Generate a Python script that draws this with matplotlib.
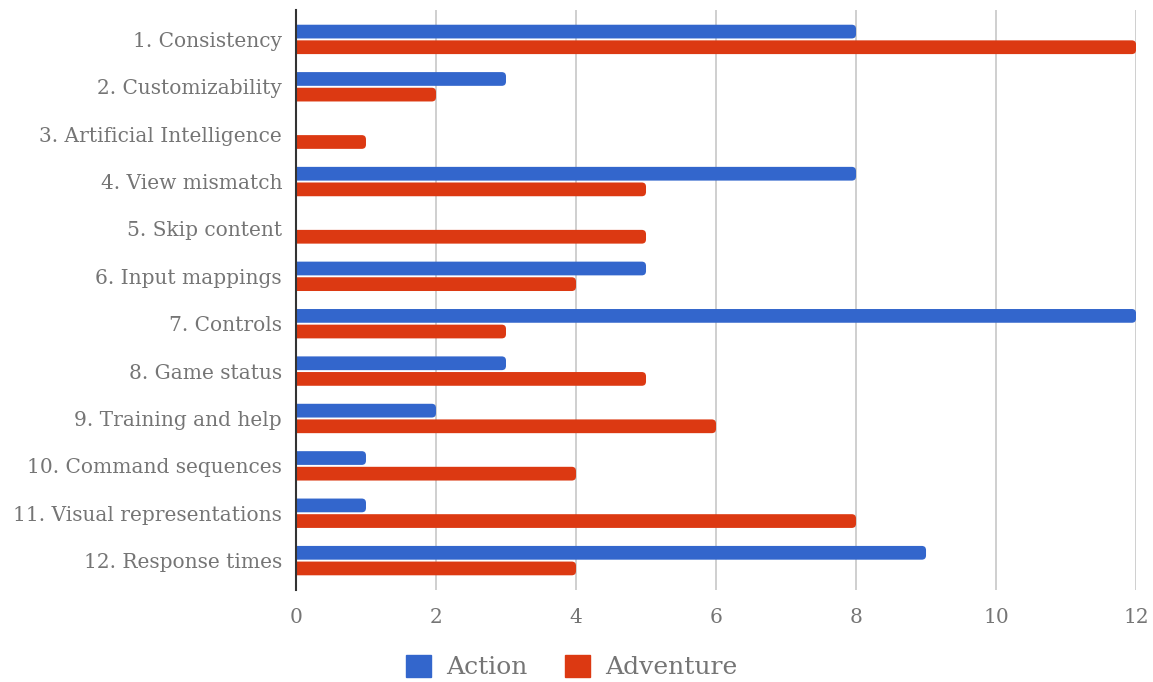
import numpy as np
import matplotlib
matplotlib.use("Agg")
import matplotlib.pyplot as plt
from matplotlib.patches import FancyBboxPatch

categories = ["1. Consistency", "2. Customizability", "3. Artificial Intelligence",
              "4. View mismatch", "5. Skip content", "6. Input mappings",
              "7. Controls", "8. Game status", "9. Training and help",
              "10. Command sequences", "11. Visual representations", "12. Response times"]
action = [8, 3, 0, 8, 0, 5, 12, 3, 2, 1, 1, 9]
adventure = [12, 2, 1, 5, 5, 4, 3, 5, 6, 4, 8, 4]
xticks = [0, 2, 4, 6, 8, 10, 12]

blue = "#3366cc"
red = "#dc3912"
txt = "#757575"

plt.rcParams['font.family'] = ['DejaVu Serif']

fig = plt.figure(figsize=(11.53, 6.82), dpi=100)
ax = fig.add_axes([0.2567, 0.1349, 0.7286, 0.8504])

y = np.arange(len(categories))
h = 0.29
off = 0.165


def rounded_barh(ypos, vals, color, label):
    # draw with barh, then swap each bar for a rounded copy of the same box
    bars = ax.barh(ypos, vals, height=h, color=color, label=label)
    for b in bars:
        w = b.get_width()
        b.set_visible(False)
        if w <= 0:
            continue
        p = FancyBboxPatch((b.get_x() - 0.2, b.get_y()), w + 0.2, b.get_height(),
                           boxstyle="round,pad=0,rounding_size=0.06",
                           mutation_aspect=1.5, facecolor=color, edgecolor="none",
                           zorder=3)
        ax.add_patch(p)
    return bars


rounded_barh(y - off, action, blue, "Action")
rounded_barh(y + off, adventure, red, "Adventure")

ax.set_xlim(0, 12)
ax.set_ylim(11.62, -0.62)
ax.set_yticks(y)
ax.set_yticklabels(categories, fontsize=14.5, color=txt)
ax.set_xticks(xticks)
ax.set_xticklabels([str(t) for t in xticks], fontsize=14.5, color=txt)
ax.tick_params(axis='both', length=0)
ax.tick_params(axis='x', pad=13)
ax.tick_params(axis='y', pad=10)
ax.grid(axis='x', color="#cccccc", linewidth=1.3, zorder=0)
ax.set_axisbelow(True)
for s in ['top', 'right', 'bottom']:
    ax.spines[s].set_visible(False)
ax.spines['left'].set_color("#333333")
ax.spines['left'].set_linewidth(1.5)
ax.spines['left'].set_zorder(5)

handles = [plt.Rectangle((0, 0), 1, 1, color=blue), plt.Rectangle((0, 0), 1, 1, color=red)]
leg = fig.legend(handles, ["Action", "Adventure"], loc='center', bbox_to_anchor=(0.496, 0.022),
                 ncol=2, frameon=False, fontsize=18, handlelength=1.0, handleheight=1.0,
                 columnspacing=1.5, handletextpad=0.6, labelcolor=txt)

plt.savefig('out.png', dpi=100)
